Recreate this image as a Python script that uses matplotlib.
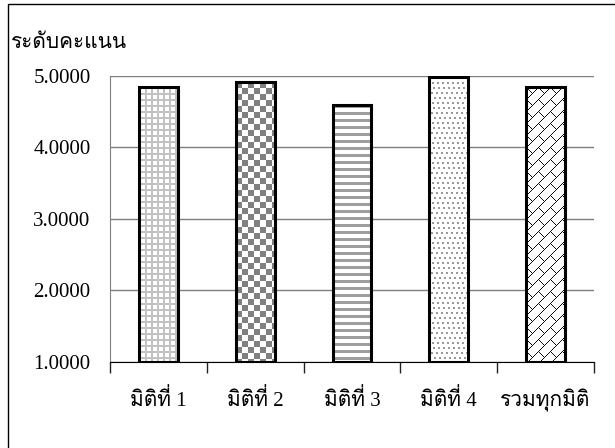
import numpy as np
import matplotlib
matplotlib.use("Agg")
import matplotlib.pyplot as plt
from matplotlib import font_manager
from matplotlib.ft2font import FT2Font
from matplotlib.patches import Rectangle

# data
categories = ["มิติที่ 1", "มิติที่ 2", "มิติที่ 3", "มิติที่ 4", "รวมทุกมิติ"]
scores = [4.85, 4.91, 4.60, 4.99, 4.85]
yticks = [1.0, 2.0, 3.0, 4.0, 5.0]
ylabel_text = "ระดับคะแนน"


def thai_family():
    # look for any installed font that has Thai glyphs
    for f in font_manager.fontManager.ttflist:
        try:
            if 0x0E21 in FT2Font(f.fname).get_charmap():
                return f.name
        except Exception:
            pass
    return None


th = thai_family()
families = ["Liberation Serif"] + ([th] if th else []) + ["DejaVu Sans"]
plt.rcParams["font.family"] = families


# fill textures (grey level arrays, 1 = white)
def tex_grid(h, w):
    y, x = np.mgrid[0:h, 0:w]
    a = np.ones((h, w))
    a[(y % 6 < 2) | (x % 6 < 2)] = 0.76
    return a


def tex_checker(h, w):
    y, x = np.mgrid[0:h, 0:w]
    a = np.ones((h, w))
    a[((x // 6) + (y // 6)) % 2 == 0] = 0.5
    return a


def tex_stripes(h, w):
    y, x = np.mgrid[0:h, 0:w]
    a = np.ones((h, w))
    a[y % 7 < 3] = 0.62
    return a


def tex_dots(h, w):
    y, x = np.mgrid[0:h, 0:w]
    off = ((y // 5) % 2) * 2 + ((y // 10) % 2)
    a = np.ones((h, w))
    a[(y % 5 < 2) & ((x + off) % 5 < 2)] = 0.6
    return a


def tex_brick(h, w):
    y, x = np.mgrid[0:h, 0:w]
    p = 12
    u = x + y
    v = x - y
    a = np.ones((h, w))
    a[u % p == 0] = 0.05
    shift = ((u // p) % 2) * p
    a[(v + shift) % (2 * p) == 0] = 0.05
    return a


textures = [tex_grid, tex_checker, tex_stripes, tex_dots, tex_brick]

fig = plt.figure(figsize=(6.15, 4.48), dpi=100)
ax = fig.add_axes([110 / 615, 1 - 361.5 / 448, 484 / 615, 285.5 / 448])

x = np.arange(1, len(categories) + 1)
ax.set_xlim(0.5, len(categories) + 0.5)
ax.set_ylim(yticks[0], yticks[-1])

bars = ax.bar(x, np.array(scores) - yticks[0], bottom=yticks[0], width=0.4,
              facecolor="none", edgecolor="black", linewidth=2.2, zorder=3)

for bar, tex in zip(bars, textures):
    x0, y0 = bar.get_x(), bar.get_y()
    w, h = bar.get_width(), bar.get_height()
    p0 = ax.transData.transform((x0, y0))
    p1 = ax.transData.transform((x0 + w, y0 + h))
    wpx = max(int(round(p1[0] - p0[0])), 1)
    hpx = max(int(round(p1[1] - p0[1])), 1)
    img = ax.imshow(tex(hpx, wpx), cmap="gray", vmin=0, vmax=1,
                    extent=(x0, x0 + w, y0, y0 + h), aspect="auto",
                    interpolation="nearest", zorder=2)
    img.set_clip_path(bar)

ax.set_xlim(0.5, len(categories) + 0.5)
ax.set_ylim(yticks[0], yticks[-1])

# gridlines and axes
ax.set_yticks(yticks)
ax.set_yticklabels([f"{v:.4f}" for v in yticks])
ax.yaxis.grid(True, color="#7f7f7f", linewidth=1)
ax.set_axisbelow(True)
ax.tick_params(axis="y", length=0, pad=14, labelsize=15)

ax.set_xticks(np.arange(0.5, len(categories) + 1, 1.0))
ax.set_xticklabels([])
ax.set_xticks(x, minor=True)
ax.set_xticklabels(categories, minor=True)
ax.tick_params(axis="x", which="major", length=8, width=1, color="#222222")
ax.tick_params(axis="x", which="minor", length=0, pad=20, labelsize=15)

for s in ["top", "right"]:
    ax.spines[s].set_visible(False)
ax.spines["left"].set_color("#7f7f7f")
ax.spines["bottom"].set_color("black")

fig.text(11 / 615, 1 - 43 / 448, ylabel_text, fontsize=15, va="center", ha="left")

# outer frame of the chart area
fig.patches.append(Rectangle((8 / 615, -0.1), 1.2, 1.1 - 4.5 / 448,
                             transform=fig.transFigure, fill=False,
                             edgecolor="black", linewidth=1))

fig.savefig("out.png", dpi=100)
